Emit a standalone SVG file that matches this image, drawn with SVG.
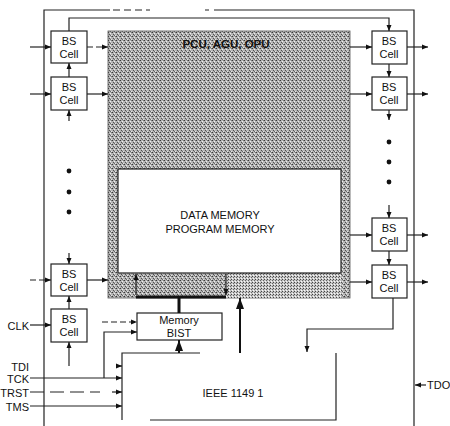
<svg xmlns="http://www.w3.org/2000/svg" width="450" height="426" viewBox="0 0 450 426">
<style>
text{font-family:"Liberation Sans",Arial,sans-serif;font-size:11px;fill:#111}
.c{text-anchor:middle}
.e{text-anchor:end}
.box{fill:#fff;stroke:#222;stroke-width:1.2}
.ln{fill:none;stroke:#222;stroke-width:1.2}
.ar{fill:none;stroke:#222;stroke-width:1.2;marker-end:url(#a)}
.dash{stroke-dasharray:7 4}
.thk{fill:none;stroke:#111;stroke-width:3}
.big{fill:none;stroke:#111;stroke-width:2;marker-end:url(#b)}
</style>
<defs>
<marker id="a" markerUnits="userSpaceOnUse" markerWidth="6" markerHeight="6" refX="6" refY="3" orient="auto"><path d="M0,0.5 L6,3 L0,5.5z" fill="#111"/></marker>
<marker id="b" markerUnits="userSpaceOnUse" markerWidth="8" markerHeight="12" refX="11" refY="4" orient="auto"><path d="M0,0 L11,4 L0,8z" fill="#111"/></marker>
<pattern id="stip" width="4" height="4" patternUnits="userSpaceOnUse">
<rect width="4" height="4" fill="#b4b4b4"/>
<rect x="0" y="0" width="1" height="1" fill="#3a3a3a"/>
<rect x="2" y="1" width="1" height="1" fill="#efefef"/>
<rect x="1" y="2" width="1" height="1" fill="#505050"/>
<rect x="3" y="3" width="1" height="1" fill="#e6e6e6"/>
<rect x="3" y="0" width="1" height="1" fill="#777"/>
<rect x="2" y="3" width="1" height="1" fill="#666"/>
</pattern>
<pattern id="hatch" width="3" height="3" patternUnits="userSpaceOnUse">
<rect width="3" height="3" fill="#c6c6c6"/>
<rect x="0" y="0" width="1" height="1" fill="#444"/>
<rect x="2" y="1" width="1" height="1" fill="#666"/>
<rect x="1" y="2" width="1" height="1" fill="#fafafa"/>
</pattern>
</defs>
<rect width="450" height="426" fill="#fff"/>

<g id="cpu">
<rect x="108" y="31" width="242" height="267" fill="url(#stip)" stroke="#555" stroke-width="0.8"/>
<rect x="226" y="273" width="115" height="25" fill="url(#hatch)"/>
<text x="226" y="48" class="c" style="font-weight:bold;font-size:11.5px">PCU, AGU, OPU</text>
</g>
<g id="memory">
<rect x="118" y="169" width="223" height="104" class="box"/>
<text x="220" y="219" class="c">DATA MEMORY</text>
<text x="220" y="233" class="c">PROGRAM MEMORY</text>
</g>

<g id="bs-l1"><rect x="51" y="31" width="36" height="32" class="box"/><text x="69" y="45" class="c">BS</text><text x="69" y="58" class="c">Cell</text></g>
<g id="bs-l2"><rect x="51" y="77" width="36" height="33" class="box"/><text x="69" y="91" class="c">BS</text><text x="69" y="104" class="c">Cell</text></g>
<g id="bs-l3"><rect x="51" y="264" width="36" height="32" class="box"/><text x="69" y="278" class="c">BS</text><text x="69" y="291" class="c">Cell</text></g>
<g id="bs-l4"><rect x="51" y="309" width="36" height="33" class="box"/><text x="69" y="323" class="c">BS</text><text x="69" y="336" class="c">Cell</text></g>
<g id="bs-r1"><rect x="372" y="31" width="35" height="33" class="box"/><text x="389" y="45" class="c">BS</text><text x="389" y="58" class="c">Cell</text></g>
<g id="bs-r2"><rect x="372" y="77" width="35" height="33" class="box"/><text x="389" y="91" class="c">BS</text><text x="389" y="104" class="c">Cell</text></g>
<g id="bs-r3"><rect x="372" y="218" width="35" height="33" class="box"/><text x="389" y="232" class="c">BS</text><text x="389" y="245" class="c">Cell</text></g>
<g id="bs-r4"><rect x="372" y="265" width="35" height="33" class="box"/><text x="389" y="279" class="c">BS</text><text x="389" y="292" class="c">Cell</text></g>

<g id="bist"><rect x="137" y="313" width="85" height="27" class="box"/><text x="179" y="324" class="c">Memory</text><text x="179" y="337" class="c">BIST</text></g>

<g id="ieee">
<path d="M200,353 H122 V420 M150,420 H336 V353" class="ln"/>
<text x="233" y="397" class="c">IEEE 1149 1</text>
</g>

<g id="labels">
<text x="29" y="330" class="e">CLK</text>
<text x="29" y="371" class="e">TDI</text>
<text x="29" y="383" class="e">TCK</text>
<text x="29" y="397" class="e">TRST</text>
<text x="29" y="411" class="e">TMS</text>
<text x="427" y="389">TDO</text>
</g>

<g id="connectors">
<path d="M44,426 V10 H110" class="ln"/>
<path d="M113,10 H150" class="ln dash"/>
<path d="M205,10 H209 M214,10 H414 V426" class="ln"/>
<path d="M69,31 V18 H389 V31" class="ar"/>
<path d="M69,77 V63" class="ar"/>
<path d="M69,121 V110" class="ar"/>
<path d="M30,47 H51" class="ar"/>
<path d="M30,94 H51" class="ar"/>
<path d="M87,47 H108" class="ar" style="stroke-dasharray:6 3"/>
<path d="M87,94 H108" class="ar"/>
<circle cx="69" cy="171" r="2.4" fill="#111"/>
<circle cx="69" cy="192" r="2.4" fill="#111"/>
<circle cx="69" cy="212" r="2.4" fill="#111"/>
<path d="M69,253 V264" class="ar"/>
<path d="M30,280 H51" class="ar" style="stroke-dasharray:6 3"/>
<path d="M87,280 H108" class="ar"/>
<path d="M69,309 V296" class="ar"/>
<path d="M69,366 V342" class="ar"/>
<path d="M30,325 H51" class="ar"/>

<path d="M350,47 H372" class="ar"/>
<path d="M407,47 H428" class="ar"/>
<path d="M389,64 V77" class="ar"/>
<path d="M350,94 H372" class="ar"/>
<path d="M407,94 H428" class="ar"/>
<path d="M389,110 V120" class="ar"/>
<circle cx="389" cy="142" r="2.4" fill="#111"/>
<circle cx="389" cy="162" r="2.4" fill="#111"/>
<circle cx="389" cy="182" r="2.4" fill="#111"/>
<path d="M389,205 V218" class="ar"/>
<path d="M350,235 H372" class="ar"/>
<path d="M407,235 H428" class="ar"/>
<path d="M389,251 V265" class="ar"/>
<path d="M350,282 H372" class="ar"/>
<path d="M407,282 H428" class="ar"/>
<path d="M393,298 V329 H307 V352" class="ar"/>
<path d="M426,385 H415" class="ar"/>

<path d="M102,322 H137" class="ar" style="stroke-dasharray:6 3"/>
<path d="M104,378 V332 H137" class="ar"/>
<path d="M179,313 V298" class="thk"/>
<path d="M136,297 H226" class="thk"/>
<path d="M136,295 V274" class="ar"/>
<path d="M226,274 V295" class="ar"/>
<path d="M179,353 V340" class="big"/>
<path d="M240,353 V298" class="big"/>

<path d="M116,366 H122" class="ar"/>
<path d="M30,378 H122" class="ar"/>
<path d="M30,392 H100" class="ln" style="stroke-dasharray:14 6"/>
<path d="M112,392 H122" class="ar"/>
<path d="M30,406 H122" class="ar"/>
</g>
</svg>
